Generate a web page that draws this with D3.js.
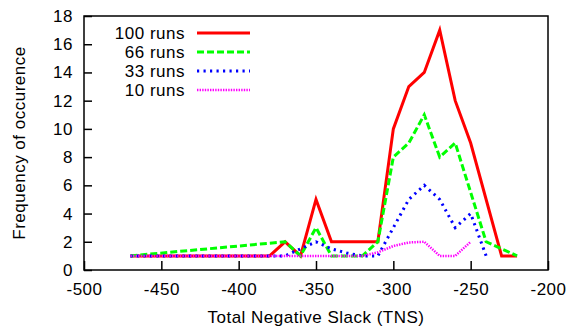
<!DOCTYPE html>
<html><head><meta charset="utf-8">
<script src="https://cdn.jsdelivr.net/npm/d3@7/dist/d3.min.js"></script>
<style>
html,body{margin:0;padding:0;background:#fff;}
text{font-family:"Liberation Sans",Arial,Helvetica,sans-serif;}
</style></head>
<body>
<svg id="chart" width="574" height="329"></svg>
<script>
const seriesNames = ["100 runs", "66 runs", "33 runs", "10 runs"];
const seriesColors = ["#ff0000", "#00ff00", "#0000ff", "#ff00ff"];
const runs100 = [[-470,1],[-380,1],[-370,2],[-360,1],[-350,5],[-340,2],[-330,2],[-320,2],[-310,2],[-300,10],[-290,13],[-280,14],[-270,17],[-260,12],[-250,9],[-230,1],[-220,1]];
const runs66 = [[-470,1],[-370,2],[-360,1],[-350,3],[-340,1],[-330,1],[-320,1],[-310,2],[-300,8],[-290,9],[-280,11],[-270,8],[-260,9],[-240,2],[-220,1]];
const runs33 = [[-470,1],[-370,1],[-350,2],[-340,1.5],[-330,1.2],[-320,1],[-310,1],[-300,3],[-290,5],[-280,6],[-270,5],[-260,3],[-250,4],[-240,1]];
const runs10 = [[-470,1],[-320,1],[-310,1.25],[-300,1.7],[-290,1.95],[-280,2],[-270,1],[-260,1],[-250,2]];
const xTicks = [-500,-450,-400,-350,-300,-250,-200];
const yTicks = [0,2,4,6,8,10,12,14,16,18];
const xTitle = "Total Negative Slack (TNS)";
const yTitle = "Frequency of occurence";

const svg = d3.select("#chart");
const L = 84, R = 548, T = 16, B = 270;
const FS = 17, LS = "0.5px";
const x = d3.scaleLinear().domain([-500,-200]).range([L,R]);
const y = d3.scaleLinear().domain([0,18]).range([B,T]);

// axes (inward ticks)
const xAxis = svg.append("g").attr("transform",`translate(0,${B})`)
  .call(d3.axisBottom(x).tickValues(xTicks).tickSizeInner(-9).tickSizeOuter(0).tickPadding(13).tickFormat(d=>String(d)));
const yAxis = svg.append("g").attr("transform",`translate(${L},0)`)
  .call(d3.axisLeft(y).tickValues(yTicks).tickSizeInner(-8).tickSizeOuter(0).tickPadding(11).tickFormat(d=>String(d)));
[xAxis,yAxis].forEach(g=>{
  g.select(".domain").remove();
  g.selectAll(".tick line").attr("stroke","#000").attr("stroke-width",1.5);
  g.selectAll(".tick text").attr("font-size",FS).attr("fill","#000").attr("letter-spacing",LS)
    .attr("font-family","'Liberation Sans',Arial,sans-serif");
});

const seriesData = [runs100, runs66, runs33, runs10];
const dashes = [null, "7,3", "2.2,4.3", "1.4,1.2"];
const widths = [3, 3, 3, 2.5];
const line = d3.line().x(d=>x(d[0])).y(d=>y(d[1]));
svg.append("clipPath").attr("id","clip").append("rect")
  .attr("x",L).attr("y",T).attr("width",R-L).attr("height",B-T);
const plot = svg.append("g").attr("clip-path","url(#clip)");
seriesData.forEach((s,i)=>{
  plot.append("path").datum(s).attr("d",line).attr("fill","none")
    .attr("stroke",seriesColors[i]).attr("stroke-width",widths[i])
    .attr("stroke-dasharray",dashes[i]).attr("stroke-linejoin","miter");
});

// frame
svg.append("rect").attr("x",L).attr("y",T).attr("width",R-L).attr("height",B-T)
  .attr("fill","none").attr("stroke","#000").attr("stroke-width",1.5);

// legend
const legY = [33,52,71,90];
seriesNames.forEach((n,i)=>{
  svg.append("text").attr("x",185).attr("y",legY[i]).attr("dy","0.35em")
    .attr("text-anchor","end").attr("font-size",FS).attr("letter-spacing",LS).attr("fill","#000").text(n);
  svg.append("line").attr("x1",197).attr("x2",250).attr("y1",legY[i]).attr("y2",legY[i])
    .attr("stroke",seriesColors[i]).attr("stroke-width",widths[i]).attr("stroke-dasharray",dashes[i]);
});

// titles
svg.append("text").attr("x",(L+R)/2).attr("y",323).attr("text-anchor","middle")
  .attr("font-size",FS).attr("letter-spacing",LS).attr("fill","#000").text(xTitle);
svg.append("text").attr("transform",`translate(25,${(T+B)/2}) rotate(-90)`)
  .attr("text-anchor","middle").attr("font-size",FS).attr("letter-spacing",LS).attr("fill","#000").text(yTitle);
</script>
</body></html>
